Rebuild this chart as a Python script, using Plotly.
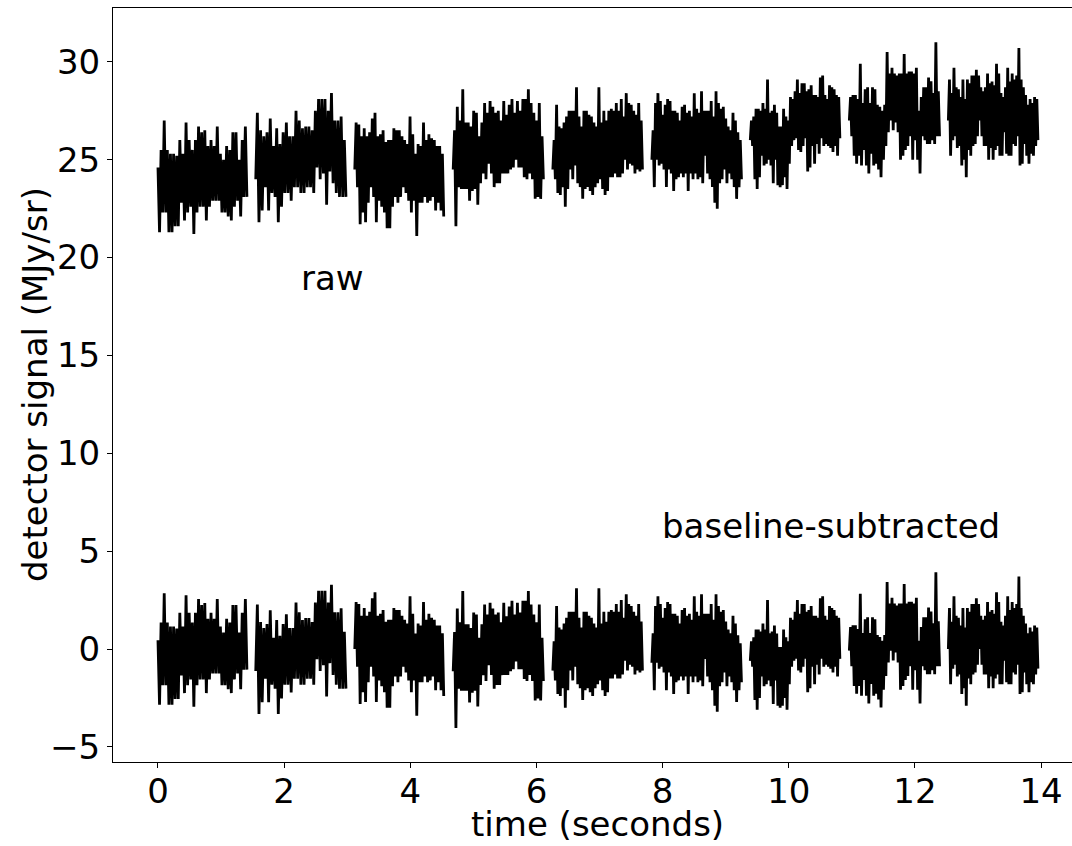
import numpy as np
import plotly.graph_objects as go

# segment time spans (seconds)
seg_start = [0.0, 1.55, 3.12, 4.68, 6.26, 7.83, 9.39, 10.96, 12.53]
seg_end = [1.41, 2.98, 4.53, 6.11, 7.68, 9.25, 10.81, 12.39, 13.95]

# raw detector signal (MJy/sr) per segment
seg1 = [24.6, 21.3, 25.5, 22.3, 27.0, 22.3, 25.5, 21.3, 25.3, 21.3, 25.3, 21.6, 25.2, 21.6, 26.0, 22.8,
        25.3, 21.9, 26.9, 22.3, 26.0, 22.6, 25.5, 21.2, 26.0, 22.3, 26.7, 22.6, 26.4, 22.6, 26.5, 21.9,
        25.7, 22.6, 26.0, 22.9, 25.7, 22.9, 26.7, 22.9, 25.3, 22.3, 25.0, 22.3, 25.7, 22.1, 25.5, 21.9,
        26.4, 22.6, 26.4, 22.9, 25.0, 22.1, 26.0, 23.1, 26.7, 23.1]
seg2 = [24.0, 27.4, 21.8, 26.5, 22.4, 26.2, 23.6, 26.4, 22.4, 27.1, 23.3, 25.7, 23.1, 26.6, 21.8, 25.8,
        22.6, 26.4, 23.3, 26.9, 23.3, 26.2, 22.9, 26.2, 23.6, 27.5, 23.6, 27.0, 23.3, 26.6, 23.3, 26.7,
        23.6, 26.7, 23.6, 26.5, 23.3, 27.5, 24.6, 28.1, 24.0, 28.1, 24.3, 28.1, 22.7, 27.5, 24.4, 28.4,
        23.8, 27.0, 23.3, 27.0, 23.1, 27.2, 23.1, 26.0, 23.1]
seg3 = [24.5, 26.9, 23.6, 26.8, 21.7, 26.2, 22.3, 26.6, 21.8, 26.2, 22.8, 26.4, 23.6, 27.1, 23.1, 27.4,
        21.8, 26.2, 22.9, 26.3, 22.6, 26.5, 22.3, 25.9, 21.5, 26.0, 21.5, 26.0, 22.6, 26.6, 23.1, 26.5,
        22.8, 26.5, 23.1, 26.2, 23.6, 26.0, 23.3, 25.8, 22.9, 27.2, 22.3, 26.3, 22.9, 25.3, 21.1, 25.8,
        22.8, 25.7, 22.8, 26.9, 23.1, 26.0, 22.8, 26.3, 22.9, 26.1, 23.1, 26.0, 22.4, 25.7, 22.8, 25.7,
        22.4, 25.3, 22.1]
seg4 = [24.5, 26.5, 21.6, 27.7, 23.6, 27.0, 23.5, 28.6, 23.5, 26.9, 23.5, 26.9, 22.9, 26.7, 23.4, 27.5,
        23.5, 27.4, 22.7, 26.2, 23.8, 26.9, 24.3, 27.9, 24.0, 27.4, 24.8, 28.0, 24.3, 27.7, 23.6, 27.4,
        23.8, 27.5, 23.8, 27.0, 24.3, 28.0, 24.3, 27.3, 24.3, 27.8, 24.5, 28.1, 24.6, 27.4, 25.0, 28.0,
        24.6, 27.5, 24.6, 28.1, 24.1, 28.1, 24.0, 28.6, 24.3, 27.9, 24.0, 27.4, 23.0, 27.0, 23.1, 27.9,
        23.0, 26.2, 24.0]
seg5 = [24.5, 26.0, 24.0, 27.8, 23.3, 26.7, 23.2, 26.6, 23.6, 26.9, 22.6, 27.2, 23.5, 27.5, 24.5, 27.5,
        24.0, 27.5, 24.7, 28.7, 23.8, 27.2, 23.6, 26.7, 23.0, 27.5, 23.5, 27.5, 23.6, 27.3, 23.4, 27.2,
        23.2, 26.9, 23.6, 26.7, 23.8, 28.7, 24.0, 26.9, 23.5, 27.5, 23.2, 27.0, 23.4, 27.5, 24.1, 27.6,
        24.1, 27.5, 24.3, 27.9, 24.1, 27.5, 24.1, 28.1, 24.3, 27.2, 25.0, 28.4, 24.5, 27.9, 24.8, 27.8,
        24.7, 27.5, 24.3, 27.3, 24.5, 27.9, 24.4, 27.0, 24.5]
seg6 = [25.0, 26.5, 23.6, 27.9, 25.0, 28.4, 24.7, 28.0, 24.8, 27.3, 24.5, 27.8, 23.6, 28.1, 24.5, 28.0,
        24.3, 27.5, 23.4, 27.5, 24.0, 27.4, 24.1, 27.0, 24.3, 27.7, 24.1, 27.8, 24.3, 27.4, 23.4, 27.5,
        24.3, 27.2, 24.0, 28.4, 24.3, 27.6, 24.0, 27.4, 24.1, 28.5, 23.8, 27.5, 25.2, 27.5, 24.3, 27.5,
        24.0, 28.0, 23.6, 27.2, 22.8, 28.5, 22.5, 27.9, 23.8, 27.6, 24.0, 27.7, 24.5, 27.1, 23.8, 26.7,
        24.3, 26.5, 24.0, 27.4, 23.6, 27.0, 23.0, 26.4, 23.6, 26.0, 24.0]
seg7 = [26.0, 27.0, 25.7, 27.2, 24.0, 27.6, 23.5, 27.6, 24.1, 27.5, 25.2, 27.9, 24.7, 27.6, 24.8, 29.1,
        25.0, 27.4, 24.7, 27.5, 23.8, 27.8, 25.0, 27.4, 23.7, 26.7, 23.6, 26.7, 23.7, 27.6, 24.1, 27.2,
        23.5, 27.0, 24.8, 28.2, 25.7, 28.1, 26.0, 28.5, 26.1, 29.1, 25.5, 28.4, 25.4, 28.9, 25.7, 28.9,
        26.1, 28.5, 24.4, 28.6, 24.6, 28.8, 25.7, 28.3, 24.8, 28.3, 25.8, 28.2, 25.3, 29.2, 26.1, 29.3,
        25.7, 28.3, 25.8, 28.1, 25.7, 28.8, 25.6, 28.7, 25.4, 28.6, 25.7, 28.3, 25.2, 28.2, 26.1]
seg8 = [27.0, 28.2, 26.2, 28.3, 25.2, 28.3, 24.8, 28.1, 25.2, 29.9, 24.7, 27.9, 25.5, 28.6, 24.7, 28.7,
        24.3, 27.9, 25.3, 28.7, 24.7, 28.6, 24.8, 27.8, 24.5, 27.7, 24.1, 27.5, 25.0, 27.8, 25.7, 30.5,
        26.4, 29.4, 27.0, 29.7, 26.5, 29.4, 26.9, 29.3, 26.4, 29.4, 25.0, 29.4, 25.2, 30.4, 25.5, 29.4,
        25.7, 29.5, 26.2, 29.5, 25.0, 29.4, 26.0, 29.7, 25.0, 27.5, 24.3, 28.2, 26.2, 28.7, 26.0, 28.7,
        25.8, 29.2, 25.8, 29.0, 26.0, 28.4, 25.8, 31.0, 26.2, 28.5, 26.2]
seg9 = [27.0, 29.1, 25.2, 28.4, 26.0, 29.7, 26.2, 28.7, 25.6, 28.6, 25.7, 28.2, 24.7, 29.1, 25.0, 28.1,
        24.1, 29.1, 25.5, 28.9, 25.2, 29.3, 25.7, 29.3, 25.8, 29.6, 26.2, 29.3, 27.0, 28.7, 26.2, 28.5,
        25.7, 28.7, 25.7, 29.4, 25.0, 28.9, 25.6, 29.0, 25.0, 28.8, 25.5, 29.9, 25.7, 29.4, 25.2, 28.4,
        25.2, 28.2, 26.4, 28.7, 25.3, 29.7, 25.2, 29.0, 25.2, 29.4, 25.8, 29.1, 25.7, 29.3, 26.2, 30.7,
        24.7, 29.1, 24.8, 28.7, 25.8, 28.3, 25.2, 27.8, 24.8, 28.1, 25.3, 27.9, 25.2, 28.2, 25.7, 28.1,
        26.0]
raw_segments = [seg1, seg2, seg3, seg4, seg5, seg6, seg7, seg8, seg9]

# per-segment baseline level (MJy/sr) removed for the lower curve
baseline = [24.15, 25.12, 24.5, 25.63, 25.6, 25.7, 26.6, 27.08, 27.0]

x_all, raw_all, sub_all = [], [], []
for s, e, vals, b in zip(seg_start, seg_end, raw_segments, baseline):
    t = np.linspace(s, e, len(vals))
    x_all += list(t) + [None]
    raw_all += list(vals) + [None]
    sub_all += [v - b for v in vals] + [None]

FONT = "DejaVu Sans"
FS = 34

fig = go.Figure()
fig.add_trace(go.Scatter(x=x_all, y=raw_all, mode="lines",
                         line=dict(color="black", width=2.8), connectgaps=False, showlegend=False))
fig.add_trace(go.Scatter(x=x_all, y=sub_all, mode="lines",
                         line=dict(color="black", width=2.8), connectgaps=False, showlegend=False))

fig.add_annotation(x=2.76, y=18.96, text="raw", showarrow=False,
                   font=dict(family=FONT, size=FS, color="black"), xanchor="center", yanchor="middle")
fig.add_annotation(x=10.67, y=6.3, text="baseline-subtracted", showarrow=False,
                   font=dict(family=FONT, size=FS, color="black"), xanchor="center", yanchor="middle")
# axis titles
fig.add_annotation(x=0.505, xref="paper", y=-84 / 754, yref="paper", text="time (seconds)",
                   showarrow=False, font=dict(family=FONT, size=FS, color="black"),
                   xanchor="center", yanchor="bottom")
fig.add_annotation(x=(35 - 113) / 959, xref="paper", y=0.5, yref="paper",
                   text="detector signal (MJy/sr)", textangle=-90,
                   showarrow=False, font=dict(family=FONT, size=FS, color="black"),
                   xanchor="center", yanchor="middle")

fig.update_layout(
    width=1072, height=846,
    margin=dict(l=113, r=0, t=8, b=84, autoexpand=False),
    paper_bgcolor="white", plot_bgcolor="white",
    font=dict(family=FONT, size=FS, color="black"),
)
fig.update_xaxes(range=[-0.713, 14.49], tick0=0, dtick=2, ticks="outside", ticklen=5, tickwidth=1,
                 tickcolor="black", showline=True, linecolor="black", linewidth=1, mirror=True,
                 showgrid=False, zeroline=False, automargin=False, ticklabelstandoff=-6,
                 tickfont=dict(family=FONT, size=FS))
fig.update_yaxes(range=[-5.77, 32.75], tick0=0, dtick=5, ticks="outside", ticklen=5, tickwidth=1,
                 tickcolor="black", showline=True, linecolor="black", linewidth=1,
                 showgrid=False, zeroline=False, automargin=False,
                 tickfont=dict(family=FONT, size=FS))

fig.write_html("out.html", config={"displayModeBar": False},
               post_script="document.body.style.margin='0px';document.body.style.overflow='hidden';")
